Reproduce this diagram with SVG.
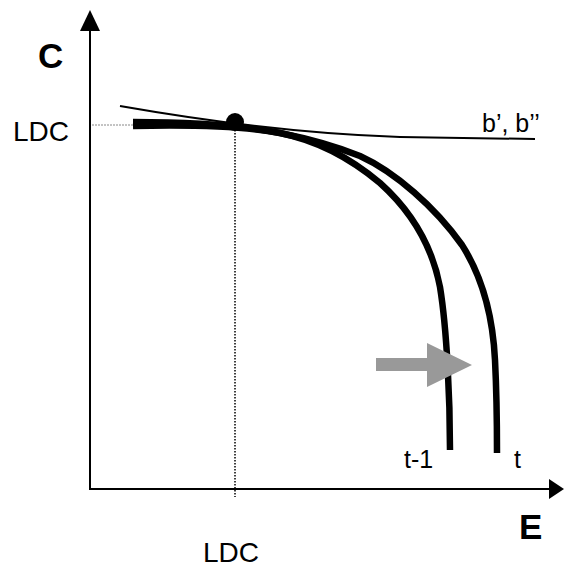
<svg xmlns="http://www.w3.org/2000/svg" width="564" height="568" viewBox="0 0 564 568">
<style>
.lbl{font-family:"Liberation Sans",Arial,sans-serif;font-size:27px;fill:#000}
.big{font-family:"Liberation Sans",Arial,sans-serif;font-size:35px;font-weight:bold;fill:#000}
.axis{stroke:#000;stroke-width:2;fill:none}
.thick{stroke:#000;stroke-width:6.5;fill:none;stroke-linecap:butt}
</style>
<rect width="564" height="568" fill="#fff"/>
<g id="axes">
<line class="axis" x1="90" y1="490" x2="90" y2="28"/>
<polygon points="90,10 80,31 100,31" fill="#000"/>
<line class="axis" x1="89" y1="489" x2="550" y2="489"/>
<polygon points="564,489 549,479 549,499" fill="#000"/>
</g>
<g id="guides">
<line x1="92" y1="125" x2="133" y2="125" stroke="#888" stroke-width="1" stroke-dasharray="2,1"/>
<line x1="235" y1="127" x2="235" y2="497" stroke="#000" stroke-width="1.5" stroke-dasharray="1.5,1.5"/>
</g>
<g id="curve-b">
<path d="M120,106 C200,120 300,134 400,137 L535,139" stroke="#000" stroke-width="2" fill="none"/>
</g>
<g id="curve-t-1">
<path class="thick" d="M133,126 C180,125 240,125 280,133 C320,141 355,162 380,183 C410,210 432,245 440,287 C447,330 450,400 450,450"/>
</g>
<g id="curve-t">
<path class="thick" d="M133,122 C180,122 240,125 280,133 C320,141 340,148 360,156 C395,172 435,207 462,245 C483,278 493,320 495,360 C497,400 497,430 497,453"/>
</g>
<g id="point">
<circle cx="235" cy="122" r="9" fill="#000"/>
</g>
<g id="shift-arrow">
<polygon points="376,358 427,358 427,343 472,365 427,387 427,371 376,371" fill="#999"/>
</g>
<g id="labels">
<text class="big" x="38" y="68">C</text>
<text class="lbl" x="13" y="141" style="font-size:28px">LDC</text>
<text class="lbl" x="482" y="132" style="font-size:25px">b’, b’’</text>
<text class="lbl" x="404" y="468" style="font-size:25px">t-1</text>
<text class="lbl" x="514" y="468" style="font-size:25px">t</text>
<text class="big" x="519" y="539">E</text>
<text class="lbl" x="203" y="562" style="font-size:28px">LDC</text>
</g>
</svg>
